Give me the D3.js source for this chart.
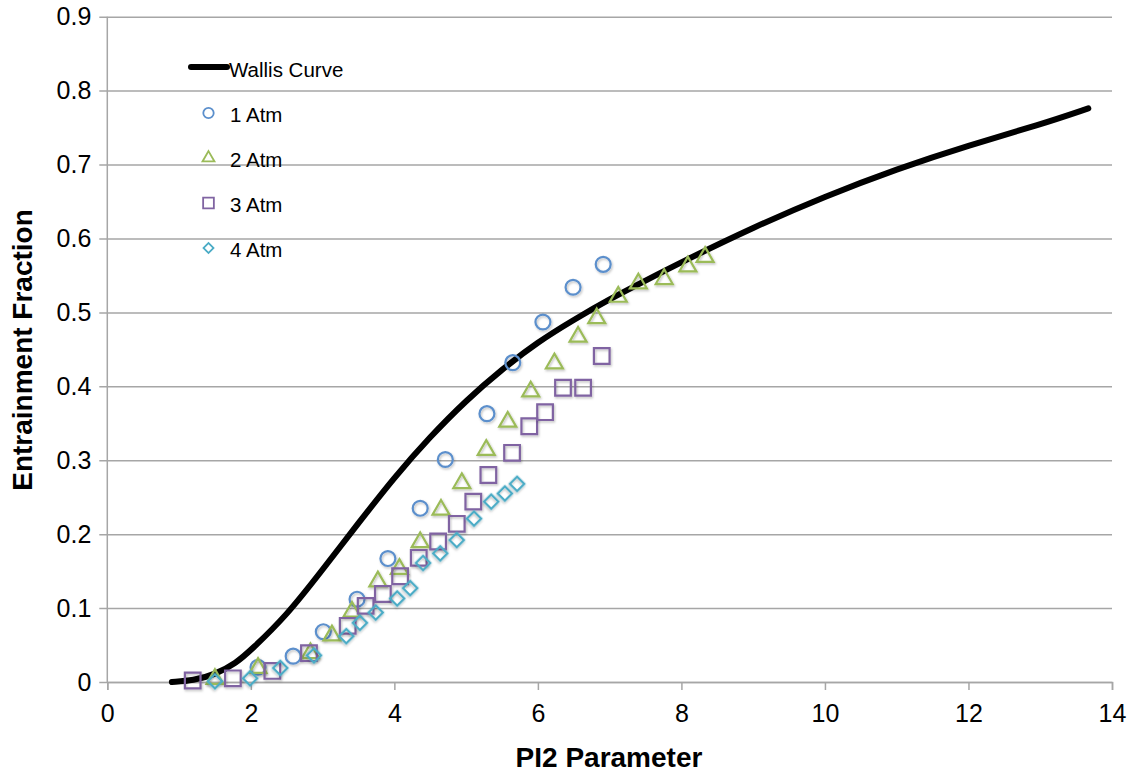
<!DOCTYPE html>
<html lang="en">

<head>
  <meta charset="UTF-8">
  <title>Entrainment Fraction</title>
  <style>
    body { margin: 0; background: #fff; }
    text { font-family: "Liberation Sans", Arial, sans-serif; }
  </style>
</head>

<body>
  <svg width="1139" height="775" class="svgs"></svg>
  <script src="https://cdn.jsdelivr.net/npm/d3@7/dist/d3.min.js"></script>
  <script>
    // Wallis correlation curve
    const wallisX = [0.9, 1.2, 1.5, 1.8, 2.0, 2.5, 3.0, 3.5, 4.0, 4.5, 5.0, 5.5, 6.0, 6.5, 7.0, 7.5, 8.0, 9.0, 10.0, 11.0, 12.0, 13.0, 13.67]
    const wallisY = [0, 0.002, 0.01, 0.026, 0.043, 0.09, 0.152, 0.215, 0.277, 0.332, 0.381, 0.423, 0.46, 0.49, 0.518, 0.543, 0.568, 0.615, 0.657, 0.694, 0.726, 0.754, 0.776]

    // measured points
    const atm1X = [2.10, 2.59, 3.01, 3.48, 3.91, 4.36, 4.71, 5.29, 5.65, 6.07, 6.49, 6.91]
    const atm1Y = [0.020, 0.035, 0.068, 0.112, 0.167, 0.235, 0.301, 0.363, 0.432, 0.487, 0.534, 0.565]

    const atm2X = [1.50, 2.10, 2.83, 3.13, 3.41, 3.77, 4.07, 4.36, 4.65, 4.94, 5.28, 5.58, 5.90, 6.23, 6.56, 6.82, 7.12, 7.40, 7.76, 8.09, 8.33]
    const atm2Y = [0.004, 0.019, 0.039, 0.063, 0.095, 0.136, 0.153, 0.189, 0.233, 0.269, 0.314, 0.352, 0.393, 0.431, 0.467, 0.492, 0.521, 0.539, 0.545, 0.562, 0.575]

    const atm3X = [1.19, 1.75, 2.30, 2.81, 3.35, 3.60, 3.84, 4.08, 4.34, 4.61, 4.87, 5.10, 5.31, 5.64, 5.88, 6.10, 6.35, 6.63, 6.89]
    const atm3Y = [0.002, 0.005, 0.015, 0.039, 0.076, 0.103, 0.119, 0.143, 0.168, 0.190, 0.214, 0.244, 0.280, 0.310, 0.346, 0.365, 0.398, 0.398, 0.441]

    const atm4X = [1.50, 1.99, 2.41, 2.88, 3.33, 3.52, 3.74, 4.04, 4.22, 4.40, 4.64, 4.87, 5.11, 5.35, 5.54, 5.71]
    const atm4Y = [0.001, 0.005, 0.019, 0.036, 0.062, 0.080, 0.094, 0.113, 0.127, 0.161, 0.174, 0.192, 0.221, 0.244, 0.255, 0.268]

    const xTicks = [0, 2, 4, 6, 8, 10, 12, 14]
    const yTicks = [0, 0.1, 0.2, 0.3, 0.4, 0.5, 0.6, 0.7, 0.8, 0.9]

    const seriesNames = ['1 Atm', '2 Atm', '3 Atm', '4 Atm']
    const seriesColors = ['#5b8fcc', '#9bbb59', '#8064a2', '#4bacc6']

    const mainsvg = d3.select('.svgs')
    const margin = { top: 16.7, right: 27, bottom: 93, left: 107.3 }
    const width = +(mainsvg.attr('width'))
    const height = +(mainsvg.attr('height'))
    const innerWidth = width - margin.left - margin.right
    const innerHeight = height - margin.top - margin.bottom

    const xScale = d3.scaleLinear().domain([0, 14]).range([0, innerWidth])
    const yScale = d3.scaleLinear().domain([0, 0.9]).range([innerHeight, 0])

    // soft shadow under the markers
    mainsvg.append('defs').append('filter')
      .attr('id', 'shadow')
      .attr('x', '-50%').attr('y', '-50%').attr('width', '200%').attr('height', '200%')
      .append('feDropShadow')
      .attr('dx', 1).attr('dy', 1.5).attr('stdDeviation', 1)
      .attr('flood-color', '#000').attr('flood-opacity', 0.25)

    const g = mainsvg.append('g')
      .attr('id', 'maingroup')
      .attr('transform', `translate(${margin.left}, ${margin.top})`)

    // gridlines + y axis
    const yAxis = d3.axisLeft(yScale)
      .tickValues(yTicks)
      .tickFormat(d => d === 0 ? '0' : d3.format('.1f')(d))
      .tickSize(-innerWidth)
      .tickPadding(16)
    const yg = g.append('g').call(yAxis)
    yg.select('.domain').remove()
    yg.selectAll('.tick line')
      .attr('stroke', '#a6a6a6').attr('stroke-width', 1.5).attr('x1', -8)
    yg.selectAll('.tick text').attr('font-size', '25px').attr('fill', '#000')

    g.append('line')
      .attr('x1', 0).attr('x2', 0).attr('y1', 0).attr('y2', innerHeight)
      .attr('stroke', '#a6a6a6').attr('stroke-width', 1.5)

    const xAxis = d3.axisBottom(xScale)
      .tickValues(xTicks)
      .tickSize(8)
      .tickPadding(14)
    const xg = g.append('g').call(xAxis).attr('transform', `translate(0, ${innerHeight})`)
    xg.select('.domain').attr('stroke', '#a6a6a6').attr('stroke-width', 1.5)
    xg.selectAll('.tick line').attr('stroke', '#a6a6a6').attr('stroke-width', 1.5)
    xg.selectAll('.tick text').attr('font-size', '25px').attr('fill', '#000')

    // Wallis curve
    const wallis = wallisX.map((x, i) => ({ x, y: wallisY[i] }))
    g.append('path')
      .datum(wallis)
      .attr('fill', 'none')
      .attr('stroke', '#000')
      .attr('stroke-width', 6)
      .attr('stroke-linecap', 'round')
      .attr('stroke-linejoin', 'round')
      .attr('d', d3.line().x(d => xScale(d.x)).y(d => yScale(d.y)).curve(d3.curveBasis))

    // markers
    const symbols = [
      d3.symbol().type(d3.symbolCircle).size(175),
      d3.symbol().type(d3.symbolTriangle).size(125),
      d3.symbol().type(d3.symbolSquare).size(245),
      d3.symbol().type(d3.symbolSquare).size(105)
    ]
    const rotations = [0, 0, 0, 45]
    const smallSymbols = [
      d3.symbol().type(d3.symbolCircle).size(85),
      d3.symbol().type(d3.symbolTriangle).size(62),
      d3.symbol().type(d3.symbolSquare).size(115),
      d3.symbol().type(d3.symbolSquare).size(50)
    ]

    const allX = [atm1X, atm2X, atm3X, atm4X]
    const allY = [atm1Y, atm2Y, atm3Y, atm4Y]

    allX.forEach((xs, s) => {
      xs.forEach((x, i) => {
        g.append('path')
          .attr('d', symbols[s]())
          .attr('fill', 'none')
          .attr('stroke', seriesColors[s])
          .attr('stroke-width', 2.2)
          .attr('filter', 'url(#shadow)')
          .attr('transform', `translate(${xScale(x)}, ${yScale(allY[s][i])}) rotate(${rotations[s]})`)
      })
    })

    // legend
    const legend = mainsvg.append('g')
    legend.append('line')
      .attr('x1', 191).attr('x2', 227).attr('y1', 67).attr('y2', 67)
      .attr('stroke', '#000').attr('stroke-width', 6).attr('stroke-linecap', 'round')
    legend.append('text')
      .attr('x', 229).attr('y', 76.5)
      .attr('font-size', '20.5px')
      .text('Wallis Curve')

    seriesNames.forEach((name, s) => {
      const cy = 113 + s * 45
      legend.append('path')
        .attr('d', smallSymbols[s]())
        .attr('fill', 'none')
        .attr('stroke', seriesColors[s])
        .attr('stroke-width', 1.8)
        .attr('transform', `translate(208.5, ${cy}) rotate(${rotations[s]})`)
      legend.append('text')
        .attr('x', 230).attr('y', cy + 8.5)
        .attr('font-size', '20.5px')
        .text(name)
    })

    // axis titles
    mainsvg.append('text')
      .text('PI2 Parameter')
      .attr('font-size', '28px')
      .attr('font-weight', 'bold')
      .attr('text-anchor', 'middle')
      .attr('x', 609).attr('y', 767)

    mainsvg.append('text')
      .text('Entrainment Fraction')
      .attr('font-size', '28px')
      .attr('font-weight', 'bold')
      .attr('text-anchor', 'middle')
      .attr('transform', 'translate(32, 350) rotate(-90)')
  </script>
</body>

</html>
